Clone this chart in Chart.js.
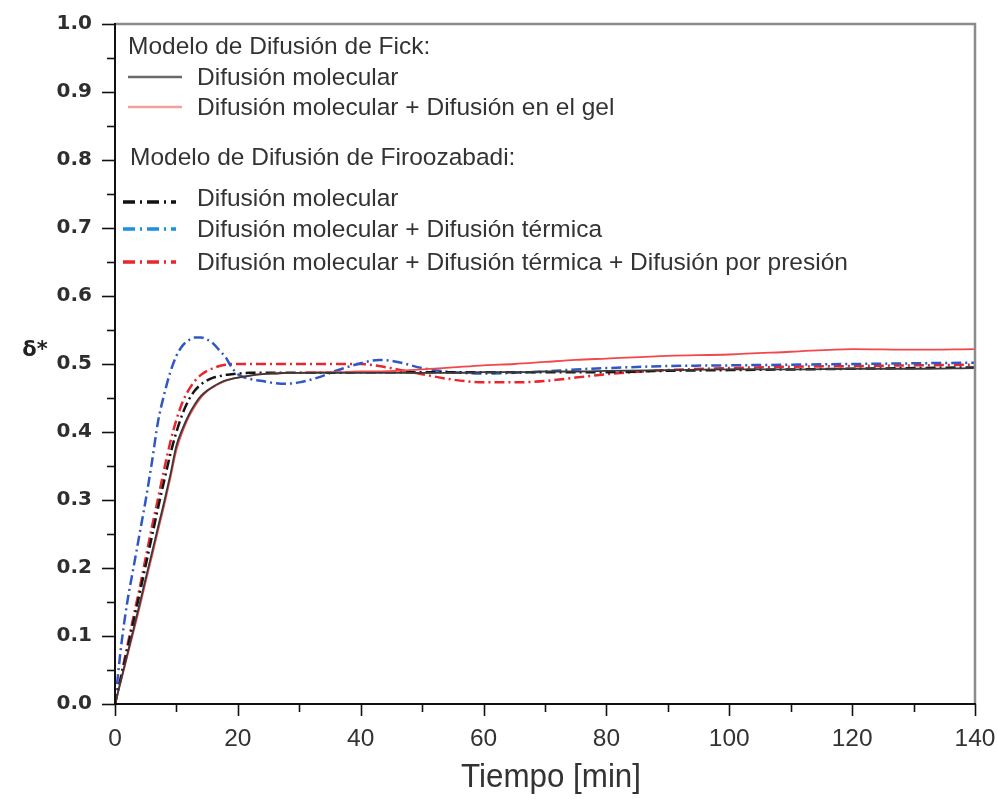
<!DOCTYPE html>
<html><head><meta charset="utf-8">
<script src="https://cdn.jsdelivr.net/npm/chart.js@4"></script>
<style>html,body{margin:0;padding:0;background:#fff}#wrap{width:998px;height:799px;position:relative}</style>
</head><body><div id="wrap"><canvas id="c" width="998" height="799"></canvas></div>
<script>
const tiempo = [0,1,2,3,4,5,6,7,8,9,10,11,12,13,14,15,16,17,18,19,20,22,24,26,28,30,33,36,40,43,46,50,55,60,65,70,75,80,90,100,110,120,130,140];
const fickMolecular = [0,0.036,0.073,0.11,0.147,0.185,0.222,0.26,0.297,0.337,0.38,0.405,0.425,0.441,0.453,0.461,0.467,0.472,0.476,0.478,0.48,0.483,0.485,0.486,0.487,0.487,0.487,0.487,0.487,0.487,0.487,0.487,0.487,0.488,0.488,0.489,0.489,0.49,0.491,0.492,0.492,0.493,0.493,0.494];
const fickGel = [0,0.035,0.07,0.106,0.142,0.18,0.217,0.255,0.292,0.332,0.374,0.401,0.422,0.438,0.451,0.46,0.466,0.471,0.475,0.478,0.48,0.483,0.485,0.486,0.487,0.487,0.488,0.488,0.489,0.489,0.49,0.492,0.495,0.498,0.5,0.503,0.506,0.508,0.512,0.514,0.518,0.522,0.521,0.522];
const firMolecular = [0,0.04,0.08,0.121,0.162,0.204,0.246,0.288,0.328,0.367,0.4,0.427,0.447,0.461,0.47,0.476,0.48,0.482,0.484,0.485,0.486,0.487,0.487,0.487,0.487,0.487,0.487,0.487,0.488,0.488,0.488,0.488,0.488,0.488,0.488,0.488,0.488,0.488,0.49,0.491,0.492,0.493,0.494,0.495];
const firTermica = [0,0.085,0.15,0.2,0.25,0.3,0.355,0.415,0.455,0.488,0.512,0.527,0.535,0.539,0.539,0.536,0.53,0.52,0.51,0.495,0.485,0.478,0.475,0.472,0.471,0.473,0.48,0.49,0.501,0.506,0.503,0.494,0.488,0.486,0.487,0.489,0.492,0.494,0.497,0.498,0.499,0.5,0.501,0.502];
const firPresion = [0,0.042,0.085,0.128,0.17,0.215,0.26,0.302,0.345,0.385,0.418,0.444,0.462,0.475,0.484,0.49,0.494,0.497,0.499,0.5,0.5,0.5,0.5,0.5,0.5,0.5,0.5,0.5,0.5,0.497,0.492,0.485,0.477,0.473,0.473,0.475,0.48,0.485,0.491,0.494,0.496,0.497,0.498,0.499];
const xTicks = [0,20,40,60,80,100,120,140];
const yTicks = [0,0.1,0.2,0.3,0.4,0.5,0.6,0.7,0.8,0.9,1.0];
const legendHeaders = ['Modelo de Difusión de Fick:', 'Modelo de Difusión de Firoozabadi:'];

const pts = arr => arr.map((v,i)=>({x:tiempo[i], y:v}));
const DASH = [10,4,2,4];
const datasets = [
  {label:'Difusión molecular', data:pts(fickMolecular), borderColor:'#3a3a3a', legendColor:'#6a6a6a', borderWidth:1.8},
  {label:'Difusión molecular + Difusión en el gel', data:pts(fickGel), borderColor:'#f2484b', legendColor:'#f4a0a0', borderWidth:1.8},
  {label:'Difusión molecular', data:pts(firMolecular), borderColor:'#151515', legendColor:'#111', borderWidth:2.5, borderDash:DASH},
  {label:'Difusión molecular + Difusión térmica', data:pts(firTermica), borderColor:'#2f58c6', legendColor:'#1e90e0', borderWidth:2.5, borderDash:DASH},
  {label:'Difusión molecular + Difusión térmica + Difusión por presión', data:pts(firPresion), borderColor:'#e8262d', legendColor:'#e8262d', borderWidth:2.5, borderDash:DASH}
];
datasets.forEach(d=>{d.pointRadius=0; d.fill=false; d.cubicInterpolationMode='monotone';});

const SANS = '"Liberation Sans", Arial, sans-serif';

const deco = {
  id:'deco',
  afterDraw(chart){
    const {ctx, chartArea:a, scales:{x,y}} = chart;
    ctx.save();
    // frame top/right
    ctx.strokeStyle='#8c8c8c'; ctx.lineWidth=2.5;
    ctx.beginPath(); ctx.moveTo(a.left,a.top); ctx.lineTo(a.right,a.top); ctx.lineTo(a.right,a.bottom); ctx.stroke();
    // axes
    ctx.strokeStyle='#111'; ctx.lineWidth=2;
    ctx.beginPath(); ctx.moveTo(a.left,a.top-1); ctx.lineTo(a.left,a.bottom); ctx.lineTo(a.right+1,a.bottom); ctx.stroke();
    // y ticks
    ctx.lineWidth=1.6;
    for(let i=0;i<=20;i++){
      const py=Math.round(y.getPixelForValue(i*0.05))+0.5;
      const len = i%2===0 ? 13 : 8;
      ctx.beginPath(); ctx.moveTo(a.left-len,py); ctx.lineTo(a.left,py); ctx.stroke();
    }
    for(let i=0;i<=14;i++){
      const px=Math.round(x.getPixelForValue(i*10))+0.5;
      const len = i%2===0 ? 12 : 8;
      ctx.beginPath(); ctx.moveTo(px,a.bottom); ctx.lineTo(px,a.bottom+len); ctx.stroke();
    }
    // titles
    ctx.fillStyle='#222';
    ctx.font='bold 21px "DejaVu Sans", sans-serif'; ctx.textAlign='center'; ctx.textBaseline='middle';
    ctx.fillText('δ*', 35, 351);
    ctx.save();
    ctx.font='33px '+SANS; ctx.fillStyle='#333'; ctx.textBaseline='alphabetic';
    ctx.translate(551, 787); ctx.scale(0.95,1);
    ctx.fillText('Tiempo [min]', 0, 0);
    ctx.restore();
    // legend
    ctx.textAlign='left'; ctx.textBaseline='alphabetic';
    ctx.font='24.5px '+SANS; ctx.fillStyle='#333';
    ctx.fillText(legendHeaders[0], 128, 54);
    ctx.fillText(legendHeaders[1], 130, 165);
    const textY=[85,115,206,237,270];
    const lineY=[77,107,202,229,262];
    chart.data.datasets.forEach((d,i)=>{
      ctx.strokeStyle=d.legendColor; ctx.lineWidth=d.borderDash?3.5:2.5;
      ctx.setLineDash(d.borderDash?[12,5,2,5]:[]);
      ctx.beginPath(); ctx.moveTo(d.borderDash?123:128, lineY[i]); ctx.lineTo(d.borderDash?176:182, lineY[i]); ctx.stroke();
      ctx.setLineDash([]);
      ctx.fillStyle='#333';
      ctx.fillText(d.label, 197, textY[i]);
    });
    ctx.restore();
  }
};

new Chart(document.getElementById('c'), {
  type:'line',
  data:{datasets},
  options:{
    responsive:false, animation:false, devicePixelRatio:1,
    layout:{padding:{left:0, top:24, right:23, bottom:0}},
    plugins:{legend:{display:false}, tooltip:{enabled:false}},
    scales:{
      x:{type:'linear', min:0, max:140,
         afterBuildTicks:s=>{s.ticks=xTicks.map(v=>({value:v}));},
         afterFit:s=>{s.height=95; s.paddingLeft=0; s.paddingRight=0;},
         grid:{display:false, drawTicks:false}, border:{display:false},
         ticks:{padding:21, color:'#333', font:{family:SANS, size:24.5}, maxRotation:0}},
      y:{type:'linear', min:0, max:1,
         afterBuildTicks:s=>{s.ticks=yTicks.map(v=>({value:v}));},
         afterFit:s=>{s.width=115; s.paddingTop=0; s.paddingBottom=0;},
         grid:{display:false, drawTicks:false}, border:{display:false},
         ticks:{padding:23, color:'#2e2e2e', font:{family:'"DejaVu Sans", sans-serif', size:20, weight:'bold'}, callback:v=>Number(v).toFixed(1)}}
    }
  },
  plugins:[deco]
});
</script></body></html>
